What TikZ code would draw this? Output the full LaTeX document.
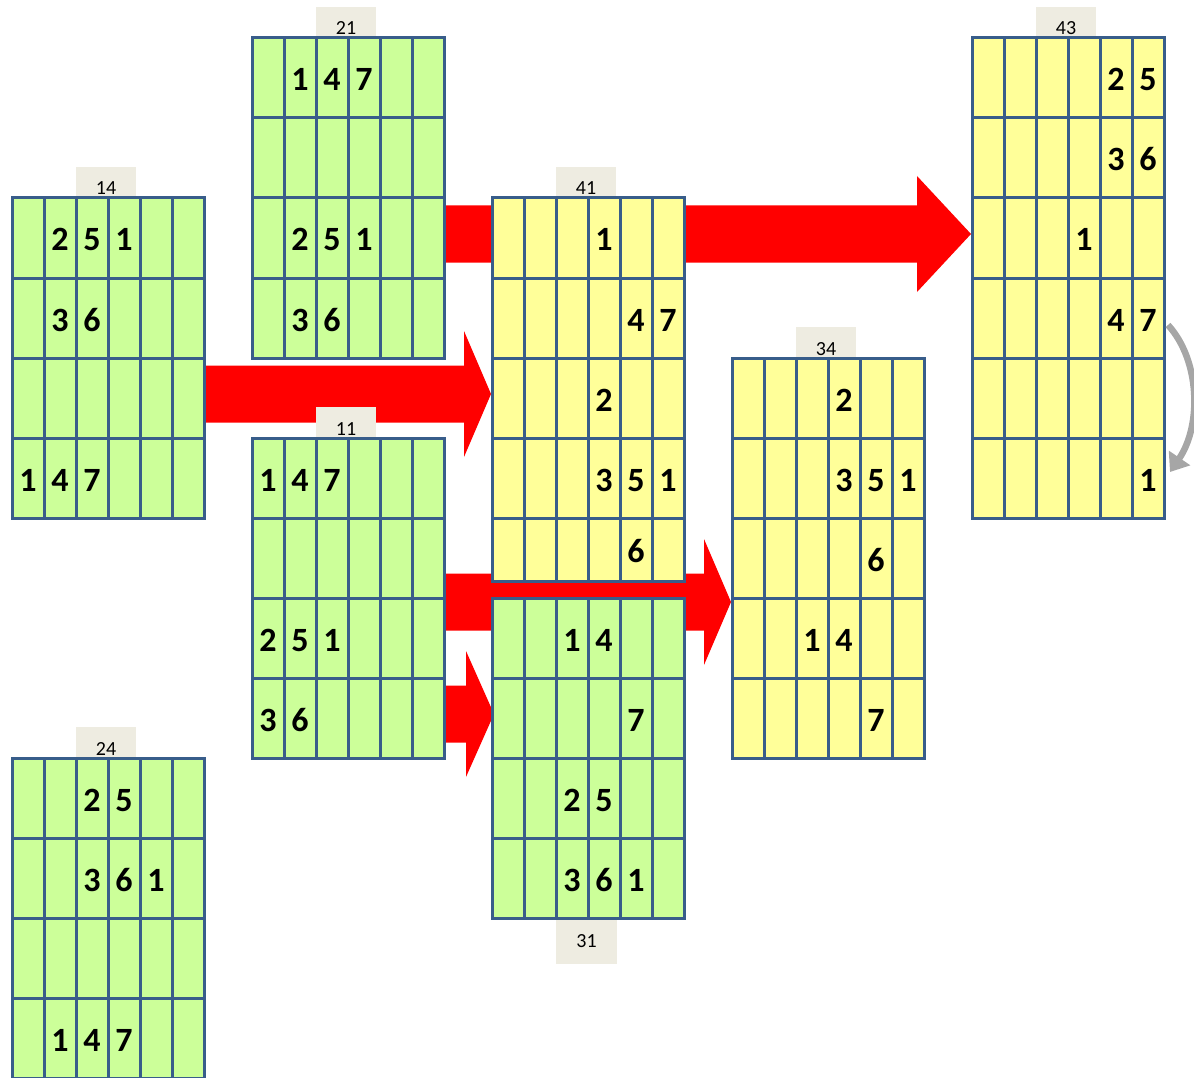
\documentclass[tikz,border=0pt]{standalone}
\usepackage{fontspec}
\setmainfont{Carlito}
\usetikzlibrary{arrows.meta,calc}
\definecolor{gfill}{HTML}{CCFF99}
\definecolor{yfill}{HTML}{FFFF99}
\definecolor{gline}{HTML}{385D8A}
\definecolor{lblc}{HTML}{EEECE1}
\definecolor{arrred}{HTML}{FF0000}
\definecolor{arcgray}{HTML}{A6A6A6}
\tikzset{
  gridbox/.style={draw=gline, line width=3pt, minimum width=192pt, inner sep=0pt, outer sep=0pt, anchor=north west},
  gridline/.style={draw=gline, line width=3pt},
  digit/.style={font=\fontsize{34}{34}\selectfont\bfseries, anchor=base, inner sep=0pt},
  lblbox/.style={fill=lblc, inner sep=0pt, minimum width=60pt},
  lbltext/.style={font=\fontsize{20}{20}\selectfont, anchor=base, inner sep=0pt},
  bigarrow/.style={fill=arrred},
  curvearrow/.style={draw=arcgray, line width=6.5pt, -{Triangle[length=17pt,width=25pt]}},
}
\newcommand\mygrid[6]{%
  \node[gridbox, fill=#5, minimum height=#4pt] (#1) at (#2,#3) {};
  \foreach \cc in {1,...,5} \draw[gridline] ({#2+32*\cc},#3) -- ++(0,#4);
  \foreach \rr in {#6} \draw[gridline] (#2,{#3+\rr}) -- ++(192,0);
}
\newcommand\digs[4]{%
  \foreach \rr/\cc/\dig in {#4} \node[digit] (#1-\rr-\cc) at ({#2+32*\cc-16},{#3+80*\rr-27}) {\dig};
}
\newcommand\toplbl[4]{%
  \node[lblbox, minimum height=31pt, anchor=south] (#1box) at (#2,#3) {};
  \node[lbltext] (#1txt) at (#2,{#3-3}) {#4};
}
\newcommand\blockarrow[5]{%
  \fill[bigarrow] let \p1=(#1), \p2=(#2) in
    (\x1,{\y1+#4pt}) -- ({\x2-#3pt},{\y1+#4pt}) -- ({\x2-#3pt},{\y1+#5pt}) -- (\x2,\y2)
    -- ({\x2-#3pt},{\y1-#5pt}) -- ({\x2-#3pt},{\y1-#4pt}) -- (\x1,{\y1-#4pt}) -- cycle;
}
\begin{document}
\begin{tikzpicture}[x=1pt,y=-1pt]
\useasboundingbox (0,0) rectangle (1194,1078);
% arrows (behind everything)
\coordinate (aA-s) at (204,394);  \coordinate (aA-t) at (491,394);
\coordinate (aB-s) at (441,234);  \coordinate (aB-t) at (971,234);
\coordinate (aC-s) at (444,602);  \coordinate (aC-t) at (731,602);
\coordinate (aD-s) at (441,714);  \coordinate (aD-t) at (494,714);
\blockarrow{aA-s}{aA-t}{27}{28.5}{63}
\blockarrow{aB-s}{aB-t}{54}{28.5}{58}
\blockarrow{aC-s}{aC-t}{27}{28.5}{63}
\blockarrow{aD-s}{aD-t}{28}{28.5}{63}
% labels
\toplbl{l14}{106}{198}{14}
\toplbl{l21}{346}{38}{21}
\toplbl{l11}{346}{438}{11}
\toplbl{l24}{106}{758}{24}
\toplbl{l41}{586}{198}{41}
\toplbl{l34}{826}{358}{34}
\toplbl{l43}{1066}{38}{43}
\node[lblbox, minimum width=61pt, minimum height=46pt] (l31box) at (586.5,941) {};
\node[lbltext] (l31txt) at (586.5,947.5) {31};
% grids
\mygrid{g14}{12}{198}{320}{gfill}{80,160,240}
\mygrid{g21}{252}{38}{320}{gfill}{80,160,240}
\mygrid{g11}{252}{438}{320}{gfill}{80,160,240}
\mygrid{g24}{12}{758}{320}{gfill}{80,160,240}
\mygrid{g41}{492}{198}{383}{yfill}{80,160,240,320}
\mygrid{g31}{492}{598}{320}{gfill}{80,160,240}
\mygrid{g34}{732}{358}{400}{yfill}{80,160,240,320}
\mygrid{g43}{972}{38}{480}{yfill}{80,160,240,320,400}
% digits
\digs{g14}{12}{198}{1/2/2,1/3/5,1/4/1,2/2/3,2/3/6,4/1/1,4/2/4,4/3/7}
\digs{g21}{252}{38}{1/2/1,1/3/4,1/4/7,3/2/2,3/3/5,3/4/1,4/2/3,4/3/6}
\digs{g11}{252}{438}{1/1/1,1/2/4,1/3/7,3/1/2,3/2/5,3/3/1,4/1/3,4/2/6}
\digs{g24}{12}{758}{1/3/2,1/4/5,2/3/3,2/4/6,2/5/1,4/2/1,4/3/4,4/4/7}
\digs{g41}{492}{198}{1/4/1,2/5/4,2/6/7,3/4/2,4/4/3,4/5/5,4/6/1}
\node[digit] (g41-5-5) at (636,562) {6};
\digs{g31}{492}{598}{1/3/1,1/4/4,2/5/7,3/3/2,3/4/5,4/3/3,4/4/6,4/5/1}
\digs{g34}{732}{358}{1/4/2,2/4/3,2/5/5,2/6/1,3/5/6,4/3/1,4/4/4,5/5/7}
\digs{g43}{972}{38}{1/5/2,1/6/5,2/5/3,2/6/6,3/4/1,4/5/4,4/6/7,6/6/1}
% curved gray arrow
\coordinate (cv-s) at (1168,325);
\coordinate (cv-t) at (1170,472);
\draw[curvearrow] (cv-s) .. controls (1200,360) and (1202,425) .. (cv-t);
\end{tikzpicture}
\end{document}
